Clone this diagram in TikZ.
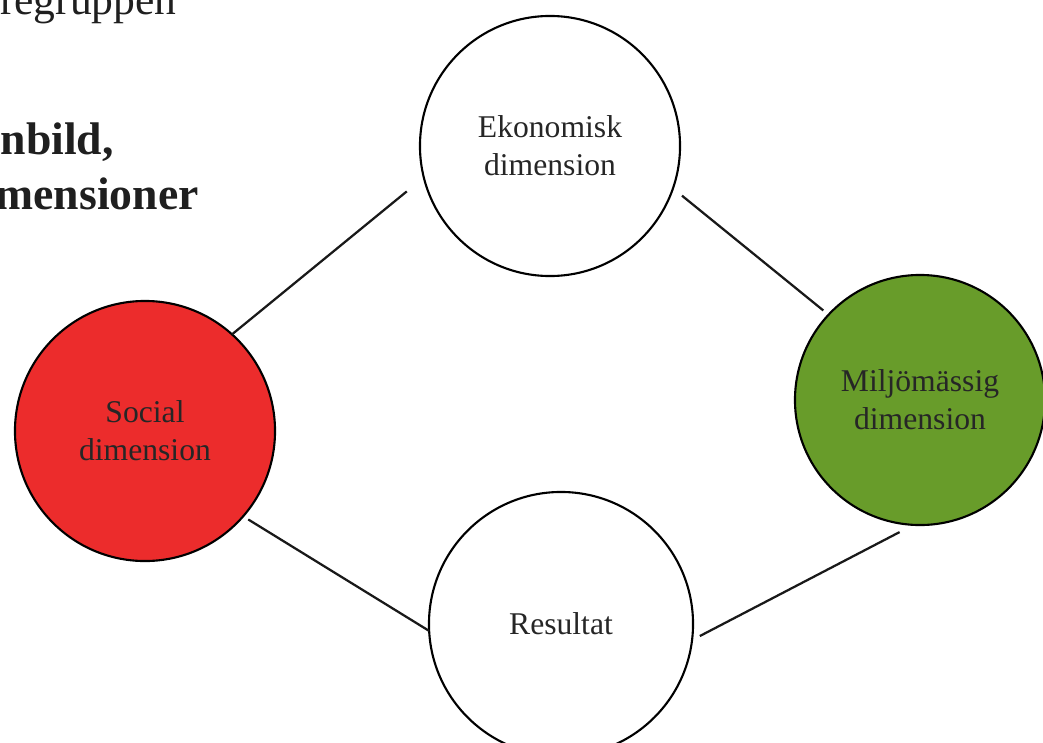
\documentclass[tikz,border=0pt]{standalone}
\usepackage{fontspec}
\setmainfont{Liberation Serif}
\definecolor{socred}{RGB}{236,44,44}
\definecolor{miljogreen}{RGB}{104,156,42}
\begin{document}
\begin{tikzpicture}[x=0.025cm,y=-0.025cm,
    dim/.style={circle,draw,line width=1.5pt,outer sep=0pt,inner sep=0pt,align=center,
      font=\fontsize{22.5}{27}\selectfont,text=black!85},
    rubrik/.style={anchor=base east,inner sep=0pt,font=\bfseries\fontsize{32.5}{38}\selectfont,text=black!88},
    link/.style={line width=1.6pt,black!90}]
    \path[use as bounding box] (0,0) rectangle (1043,742);
    \clip (0,0) rectangle (1043,742);

    % avskuren rubrik
    \path
    (177,15) node[rubrik,font=\fontsize{31}{36}\selectfont](rub1) {regruppen}
    (114,154) node[rubrik](rub2) {nbild,}
    (199,209) node[rubrik](rub3) {mensioner};

    \path
    (550,146) node[dim,minimum size=6.5cm,fill=white](eko) {Ekonomisk\\dimension}
    (145,431) node[dim,minimum size=6.5cm,fill=socred](soc) {Social\\dimension}
    (920,400) node[dim,minimum size=6.25cm,fill=miljogreen](mil) {Miljömässig\\dimension}
    (561,624) node[dim,minimum size=6.6cm,fill=white](res) {Resultat};

    \draw[link,shorten >=0.55cm] (soc.48) -- (eko.194);
    \draw[link,shorten <=0.29cm,shorten >=0.17cm] (eko.341) -- (mil.137);
    \draw[link,shorten <=0.15cm] (soc.319) -- (res.183);
    \draw[link,shorten <=0.22cm,shorten >=0.39cm] (res.353) -- (mil.267);
\end{tikzpicture}
\end{document}
